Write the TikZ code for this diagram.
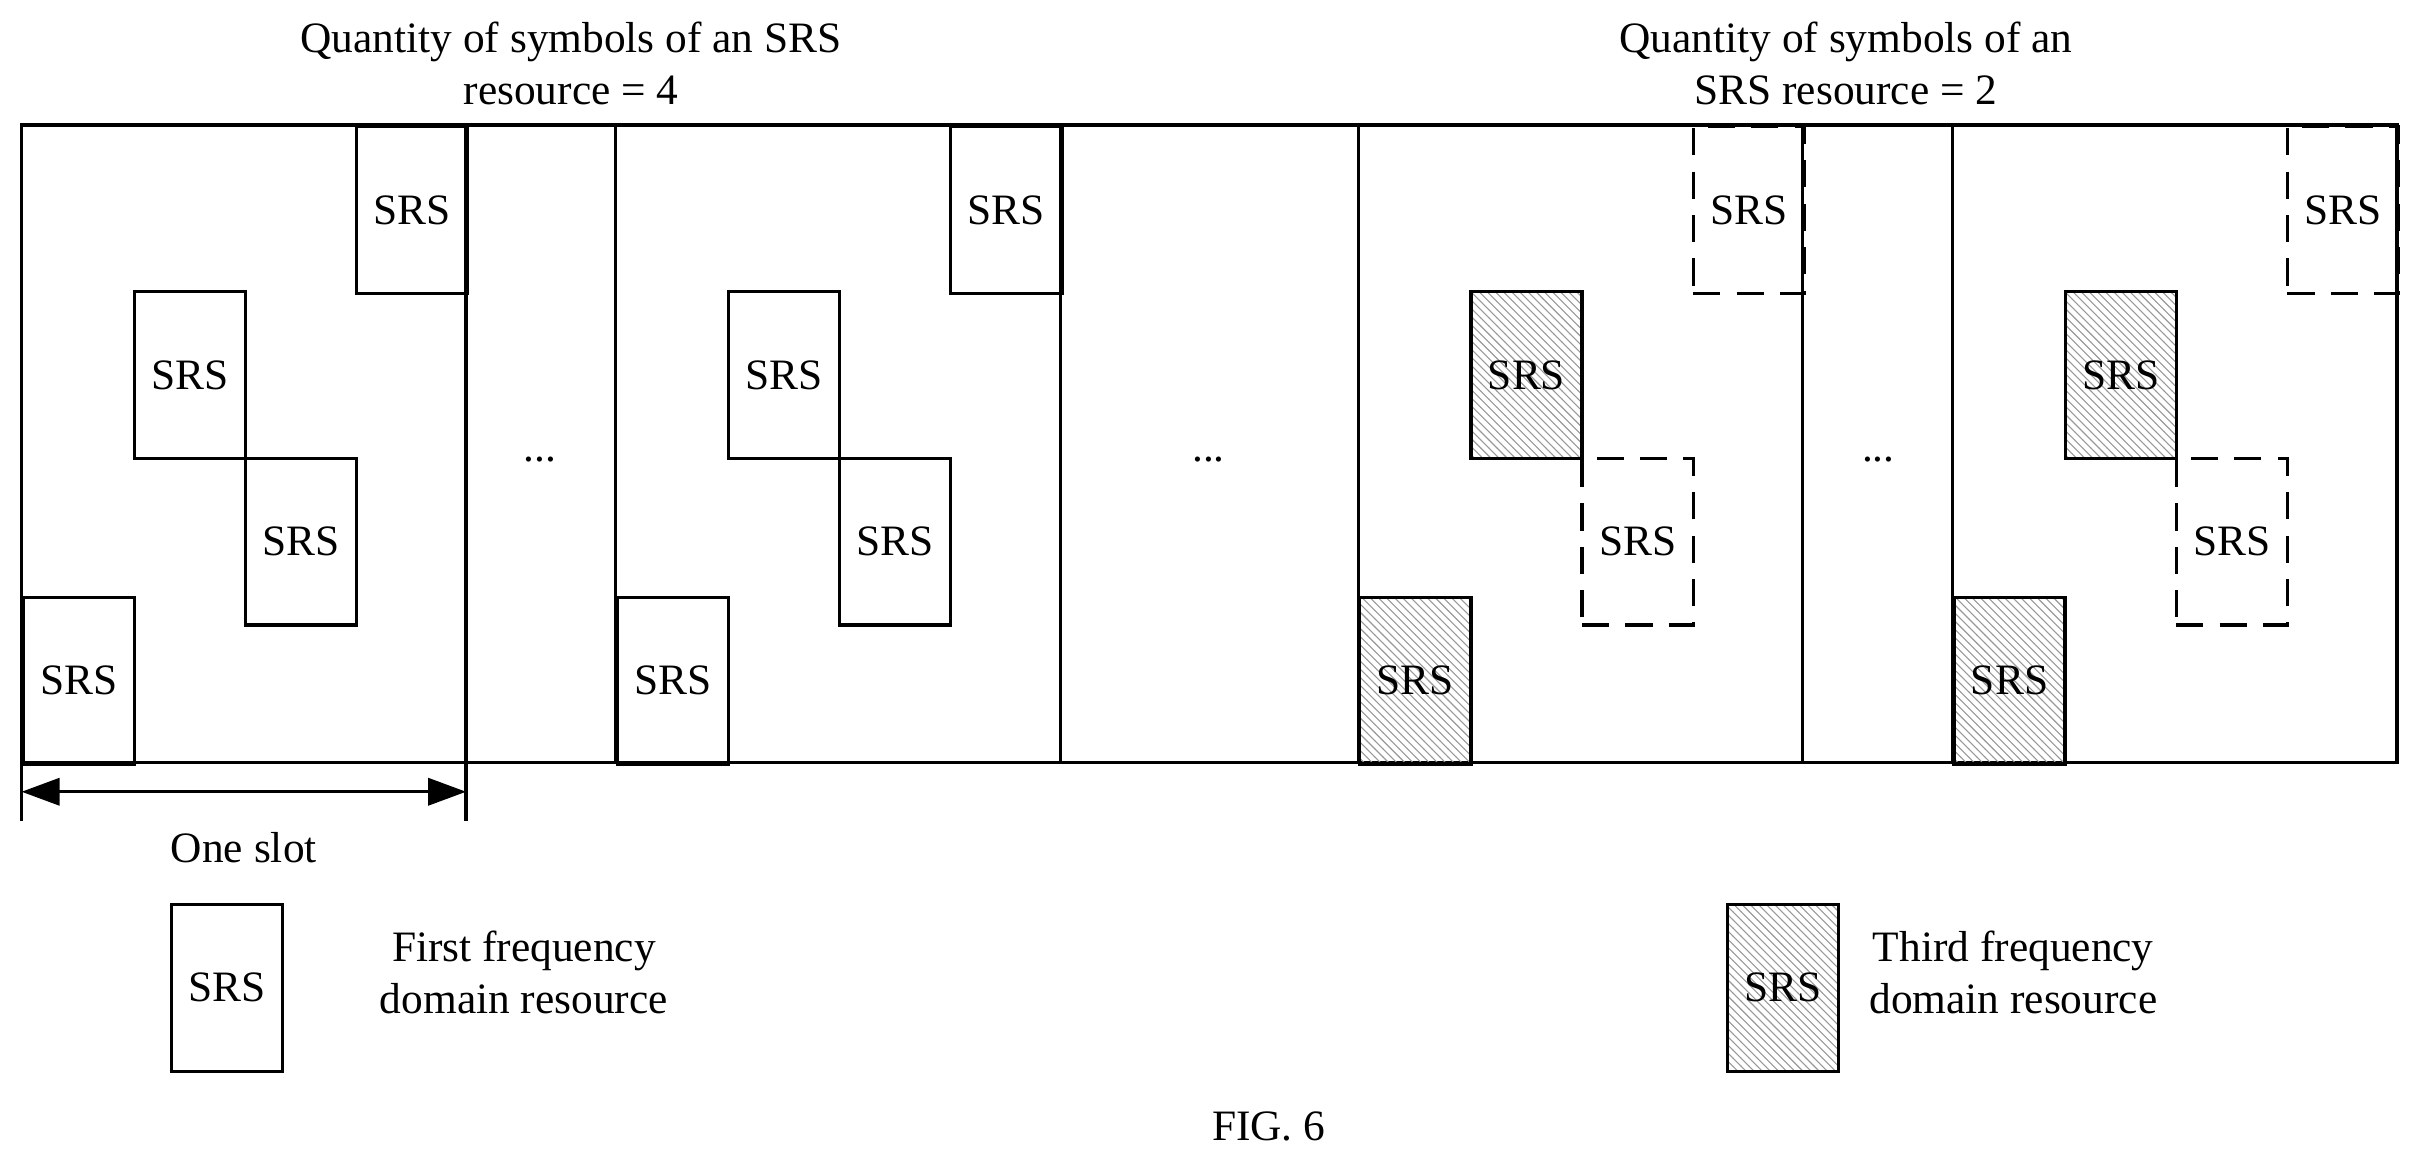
\documentclass[tikz,border=0pt]{standalone}
\usepackage{fontspec}
\setmainfont{Liberation Serif}
\usetikzlibrary{patterns,arrows.meta}
\tikzset{
    srs/.style={draw, line width=1.2pt, minimum width=1.44cm, minimum height=2.16cm,
        anchor=north west, inner sep=0pt},
    hatched/.style={srs, pattern=north west lines, pattern color=gray!80},
    ghost/.style={srs, dash pattern=on 10pt off 6pt},
    lbl/.style={align=center, font=\fontsize{16}{19}\selectfont},
}
\begin{document}
\begin{tikzpicture}[x=0.02cm, y=-0.02cm, font=\fontsize{16}{19}\selectfont]
    \useasboundingbox (0,0) rectangle (1568,754);

    % Frame and slot borders
    \draw[line width=1.2pt] (14,81) rectangle (1553,494);
    \foreach \x in {302,399,687,880,1168,1265}
        \draw[line width=1.2pt] (\x,81) -- (\x,494);

    % Four-symbol slots
    \foreach \o/\n in {0/a,385/b} {
        \node[srs] (\n1) at (14+\o,386) {SRS};
        \node[srs] (\n2) at (86+\o,188) {SRS};
        \node[srs] (\n3) at (158+\o,296) {SRS};
        \node[srs] (\n4) at (230+\o,81) {SRS};
    }

    % Two-symbol slots
    \foreach \o/\n in {0/c,385/d} {
        \node[hatched] (\n1) at (880+\o,386) {SRS};
        \node[hatched] (\n2) at (952+\o,188) {SRS};
        \node[ghost] (\n3) at (1024+\o,296) {SRS};
        \node[ghost] (\n4) at (1096+\o,81) {SRS};
    }

    % Gaps
    \node (gap1) at (350,298) {...};
    \node (gap2) at (783,298) {...};
    \node (gap3) at (1217,298) {...};

    % Titles
    \node[lbl] (title1) at (370,41) {Quantity of symbols of an SRS\\resource = 4};
    \node[lbl] (title2) at (1196,41) {Quantity of symbols of an\\SRS resource = 2};

    % Slot length
    \coordinate (s1) at (14,513);
    \coordinate (s2) at (302,513);
    \draw[line width=1.2pt] (14,494) -- (14,532);
    \draw[line width=1.2pt] (302,494) -- (302,532);
    \draw[{Triangle[length=14pt,width=10pt]}-{Triangle[length=14pt,width=10pt]}, line width=1.2pt] (s1) -- (s2);
    \node (slot) at (158,549) {One slot};

    % Legend
    \node[srs] (key1) at (110,585) {SRS};
    \node[lbl, right=0pt] (keytext1) at (240,630) {First frequency\\domain resource};
    \node[hatched] (key2) at (1118,585) {SRS};
    \node[lbl, right=0pt] (keytext2) at (1205,630) {Third frequency\\domain resource};

    \node (fig) at (822,730) {FIG. 6};
\end{tikzpicture}
\end{document}
